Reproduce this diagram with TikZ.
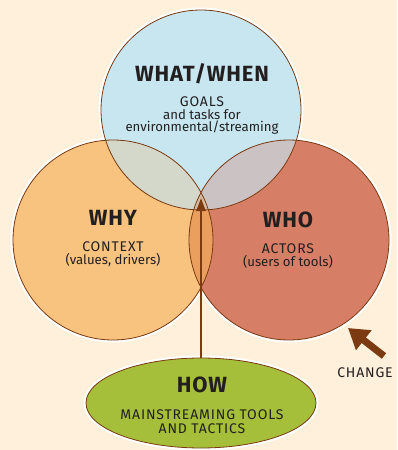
\documentclass[tikz,border=0pt]{standalone}
\usepackage{fontspec}
\setmainfont{Fira Sans}
\newfontfamily\headfont[LetterSpace=4]{Fira Sans}
\newfontfamily\capsfont[LetterSpace=6]{Fira Sans}
\usetikzlibrary{arrows.meta,shapes.geometric}
\definecolor{bgc}{HTML}{FEF0DA}
\definecolor{cblue}{HTML}{C7E6F0}
\definecolor{corange}{HTML}{F8C37F}
\definecolor{cred}{HTML}{D77F66}
\definecolor{cgreen}{HTML}{A5BF3A}
\definecolor{cbrown}{HTML}{7B3A10}
\definecolor{ctl}{HTML}{D3D8CB}
\definecolor{ctr}{HTML}{CBC2C4}
\definecolor{clr}{HTML}{EA9F5E}
\definecolor{ctlr}{HTML}{D5BBA3}
\definecolor{ink}{HTML}{231F20}
\begin{document}
\begin{tikzpicture}[x=1pt,y=-1pt,
  halo/.style={white,line width=5pt},
  rim/.style={cbrown,line width=0.8pt},
  head/.style={text=ink,inner sep=0pt,anchor=base,font=\headfont\fontsize{22}{24}\selectfont\bfseries},
  sub/.style={text=ink,inner sep=0pt,anchor=base,font=\fontsize{13.2}{14}\selectfont},
  capsub/.style={text=ink,inner sep=0pt,anchor=base,font=\capsfont\fontsize{14}{15}\selectfont},
  linkarrow/.style={cbrown,line width=2.2pt,-{Triangle[length=13pt,width=9pt]}},
  bigarrow/.style={cbrown,line width=7pt,-{Triangle[length=20pt,width=24pt]}}]
\useasboundingbox (0,0) rectangle (397,450);
\fill[bgc] (0,0) rectangle (397,450);
\coordinate (cT) at (201,110);
\coordinate (cL) at (113,240);
\coordinate (cR) at (289,240);
% halos
\draw[halo] (cT) circle[radius=100pt];
\draw[halo] (cL) circle[radius=100pt];
\draw[halo] (cR) circle[radius=100pt];
% fills
\fill[cblue] (cT) circle[radius=100pt];
\fill[corange] (cL) circle[radius=100pt];
\fill[cred] (cR) circle[radius=100pt];
\begin{scope}
  \clip (cL) circle[radius=100pt];
  \fill[clr] (cR) circle[radius=100pt];
\end{scope}
\begin{scope}
  \clip (cT) circle[radius=100pt];
  \fill[ctl] (cL) circle[radius=100pt];
  \fill[ctr] (cR) circle[radius=100pt];
  \clip (cL) circle[radius=100pt];
  \fill[ctlr] (cR) circle[radius=100pt];
\end{scope}
% outlines
\draw[rim] (cT) circle[radius=100pt];
\draw[rim] (cL) circle[radius=100pt];
\draw[rim] (cR) circle[radius=100pt];
% HOW ellipse
\node[ellipse,draw=cbrown,line width=0.8pt,fill=cgreen,
      preaction={draw=white,line width=5pt},
      minimum width=230pt,minimum height=90pt,inner sep=0pt] (how) at (201,403) {};
% texts
\node[head] (whatwhen) at (202,81) {WHAT/WHEN};
\node[capsub] (goals) at (202,106) {GOALS};
\node[sub] (tasks) at (202,119) {and tasks for};
\node[sub] (env) at (202,131.5) {environmental/streaming};
\node[head] (why) at (113,225) {WHY};
\node[capsub] (context) at (113,251.5) {CONTEXT};
\node[sub] (values) at (113,264) {(values, drivers)};
\node[head] (who) at (288,227) {WHO};
\node[capsub] (actors) at (288,253) {ACTORS};
\node[sub] (users) at (288,266) {(users of tools)};
\node[head] (howt) at (202,392.5) {HOW};
\node[capsub] (tools) at (202,419.5) {MAINSTREAMING TOOLS};
\node[capsub] (tactics) at (202,433.5) {AND TACTICS};
\node[capsub] (change) at (365,377) {CHANGE};
% arrows
\coordinate (apex) at (201,198);
\draw[linkarrow] (how.north) -- (apex);
\coordinate (chtail) at (384,356);
\coordinate (chtip) at (348,328);
\draw[bigarrow] (chtail) -- (chtip);
\end{tikzpicture}
\end{document}
